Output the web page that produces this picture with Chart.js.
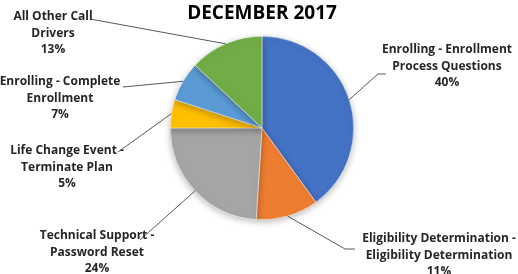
<!DOCTYPE html>
<html>
<head>
<meta charset="utf-8">
<script src="https://cdn.jsdelivr.net/npm/chart.js@4"></script>
<style>
    html, body { margin: 0; padding: 0; background: #fff; }
    #wrap { width: 518px; height: 274px; }
</style>
</head>
<body>
<div id="wrap"><canvas id="pie-chart" width="518" height="274"></canvas></div>
<script>
const chartTitle = "DECEMBER 2017";
const labels = [
    ["Enrolling - Enrollment", "Process Questions"],
    ["Eligibility Determination -", "Eligibility Determination"],
    ["Technical Support -", "Password Reset"],
    ["Life Change Event -", "Terminate Plan"],
    ["Enrolling - Complete", "Enrollment"],
    ["All Other Call", "Drivers"]
];
const values = [40, 11, 24, 5, 7, 13];
const colors = ["#4472C4", "#ED7D31", "#A5A5A5", "#FFC000", "#5B9BD5", "#70AD47"];

// where each label sits (center x, first line y) and where its leader line stops
const labelSpots = [
    { x: 447, y: 50, bend: [378, 74], end: [386, 74] },
    { x: 439, y: 239, bend: [345, 249], end: [355, 249] },
    { x: 97, y: 236, bend: null, end: [140, 240] },
    { x: 67, y: 151, bend: null, end: [118, 152] },
    { x: 60, y: 82, bend: null, end: [123, 87] },
    { x: 53, y: 17, bend: null, end: [90, 19] }
];

const FONT = "'Open Sans', sans-serif";

const labelPlugin = {
    id: "excelLabels",
    beforeDatasetsDraw(chart) {
        const ctx = chart.ctx;
        ctx.save();
        ctx.shadowColor = "rgba(0,0,0,0.28)";
        ctx.shadowBlur = 7;
        ctx.shadowOffsetY = 2;
    },
    afterDatasetsDraw(chart) {
        const ctx = chart.ctx;
        ctx.restore();

        const meta = chart.getDatasetMeta(0);
        const total = values.reduce((a, b) => a + b, 0);

        ctx.save();
        ctx.strokeStyle = "#595959";
        ctx.lineWidth = 1;
        meta.data.forEach((arc, i) => {
            const mid = (arc.startAngle + arc.endAngle) / 2;
            const sx = arc.x + Math.cos(mid) * arc.outerRadius;
            const sy = arc.y + Math.sin(mid) * arc.outerRadius;
            const spot = labelSpots[i];
            ctx.beginPath();
            ctx.moveTo(sx, sy);
            if (spot.bend) ctx.lineTo(spot.bend[0], spot.bend[1]);
            ctx.lineTo(spot.end[0], spot.end[1]);
            ctx.stroke();
        });

        ctx.fillStyle = "#262626";
        ctx.font = "bold 12px " + FONT;
        ctx.textAlign = "center";
        ctx.textBaseline = "middle";
        meta.data.forEach((arc, i) => {
            const spot = labelSpots[i];
            const lines = labels[i].concat([Math.round(values[i] / total * 100) + "%"]);
            lines.forEach((line, k) => {
                ctx.fillText(line, spot.x, spot.y + k * 16.5);
            });
        });

        ctx.fillStyle = "#000";
        ctx.font = "bold 19px " + FONT;
        ctx.fillText(chartTitle, 262, 14);
        ctx.restore();
    }
};

const ctx = document.getElementById("pie-chart").getContext("2d");

new Chart(ctx, {
    type: "pie",
    data: {
        labels,
        datasets: [{
            data: values,
            backgroundColor: colors,
            borderColor: "#fff",
            borderWidth: 0.5
        }]
    },
    options: {
        responsive: false,
        animation: false,
        layout: {
            padding: { top: 36, bottom: 54, left: 20, right: 14 }
        },
        plugins: {
            legend: { display: false },
            tooltip: { enabled: false }
        }
    },
    plugins: [labelPlugin]
});
</script>
</body>
</html>
